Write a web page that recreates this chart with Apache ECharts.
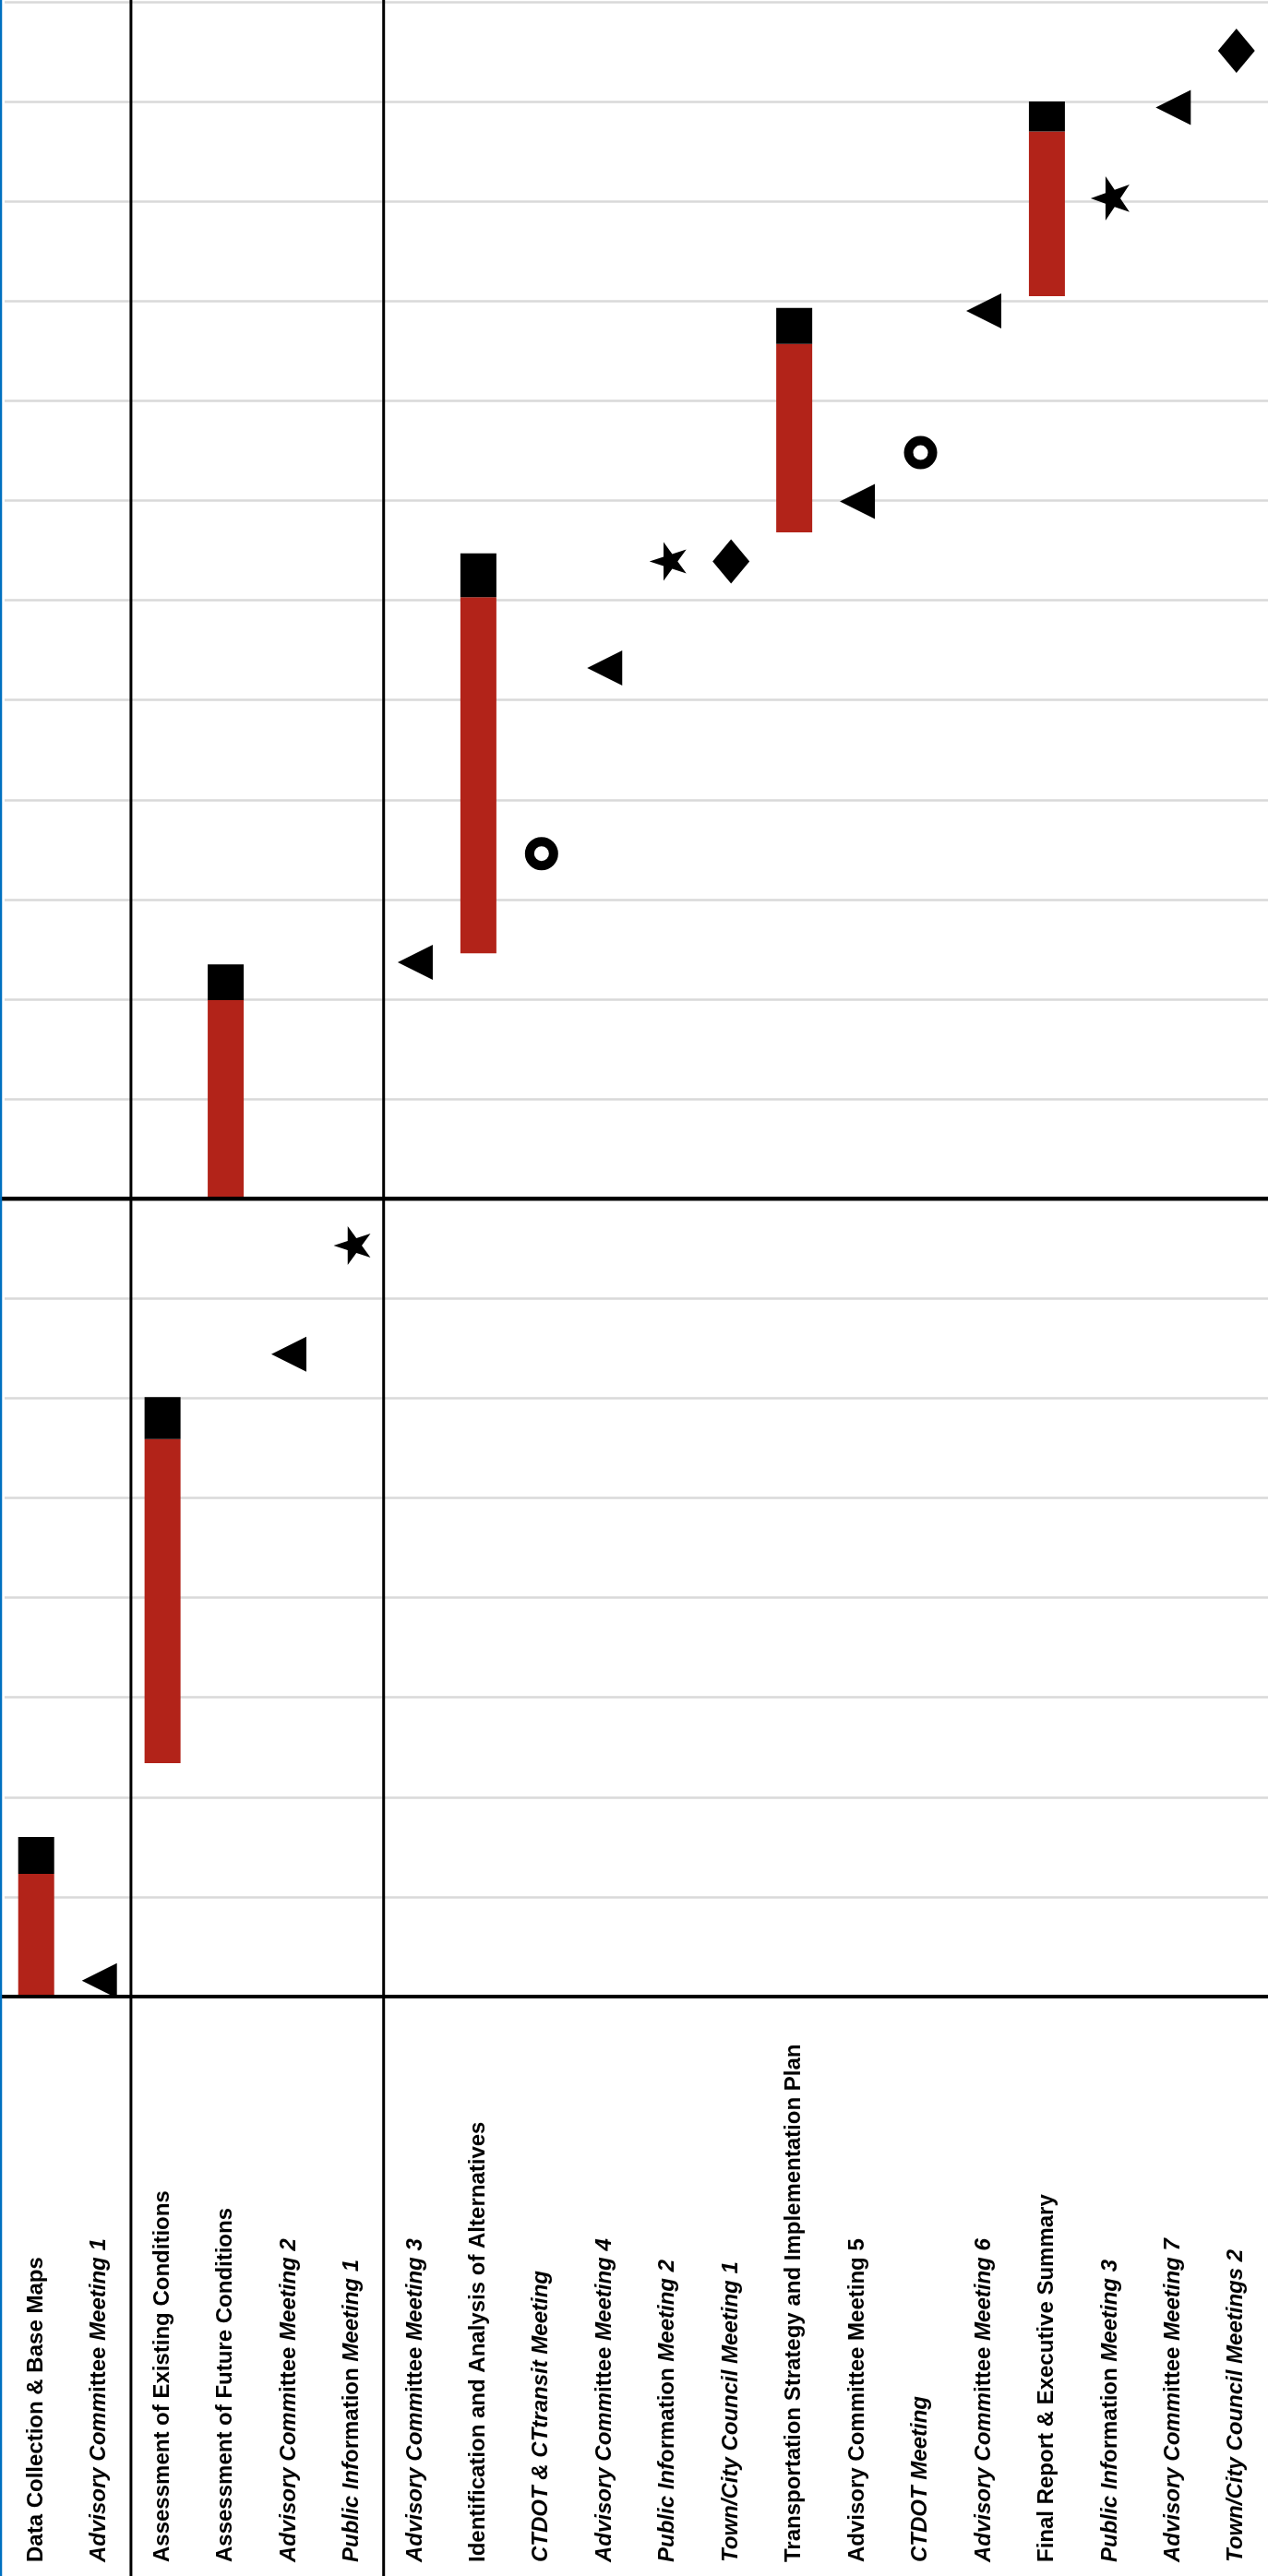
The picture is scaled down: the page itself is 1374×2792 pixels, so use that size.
<!DOCTYPE html>
<html>
<head>
<meta charset="utf-8">
<script src="https://cdn.jsdelivr.net/npm/echarts@6/dist/echarts.min.js"></script>
<style>
html,body{margin:0;padding:0;background:#fff;}
#c{width:1374px;height:2792px;}
</style>
</head>
<body>
<div id="c"></div>
<script>
// ---- data ----
const categories = [
  'Data Collection & Base Maps',
  'Advisory Committee Meeting 1',
  'Assessment of Existing Conditions',
  'Assessment of Future Conditions',
  'Advisory Committee Meeting 2',
  'Public Information Meeting 1',
  'Advisory Committee Meeting 3',
  'Identification and Analysis of Alternatives',
  'CTDOT & CTtransit Meeting',
  'Advisory Committee Meeting 4',
  'Public Information Meeting 2',
  'Town/City Council Meeting 1',
  'Transportation Strategy and Implementation Plan',
  'Advisory Committee Meeting 5',
  'CTDOT Meeting',
  'Advisory Committee Meeting 6',
  'Final Report & Executive Summary',
  'Public Information Meeting 3',
  'Advisory Committee Meeting 7',
  'Town/City Council Meetings 2'
];
const N = null;
// task bars: start, start of black cap, end
const taskStart = [0,    N, 2.34, 8.00, N, N, N, 10.46, N, N, N, N, 14.68, N, N, N, 17.05, N, N, N];
const capStart  = [1.23, N, 5.59, 9.99, N, N, N, 14.03, N, N, N, N, 16.57, N, N, N, 18.70, N, N, N];
const taskEnd   = [1.60, N, 6.01, 10.35, N, N, N, 14.47, N, N, N, N, 16.93, N, N, N, 19.00, N, N, N];
// meetings
const advisoryMeetings = [N, 0.16, N, N, 6.44, N, 10.37, N, N, 13.32, N, N, N, 14.99, N, 16.90, N, N, 18.94, N];
const publicMeetings   = [N, N, N, N, N, 7.53, N, N, N, N, 14.39, N, N, N, N, N, N, 18.03, N, N];
const councilMeetings  = [N, N, N, N, N, N, N, N, N, N, N, 14.39, N, N, N, N, N, N, N, 19.51];
const ctdotMeetings    = [N, N, N, N, N, N, N, N, 11.46, N, N, N, N, N, 15.48, N, N, N, N, N];
const yMin = 0, yMax = 20, yStep = 1;
const phaseBreak = 8;
const separatorsAfter = [1, 5]; // vertical separators after these category indices

// ---- helpers ----
const dash = v => (v === null ? '-' : v);
const baseData  = taskStart.map(dash);
const redData   = taskStart.map((s, i) => s === null ? '-' : +(capStart[i] - s).toFixed(3));
const blackData = taskStart.map((s, i) => s === null ? '-' : +(taskEnd[i] - capStart[i]).toFixed(3));

const STAR = 'path://M0,47.55 L34.55,36.32 L34.55,0 L55.9,29.39 L90.45,18.15 L69.1,47.55 L90.45,76.95 L55.9,65.72 L34.55,95.1 L34.55,58.78 Z';
const FONT = '"Liberation Sans", Arial, sans-serif';

function labelFmt(v) {
  if (v === 'Advisory Committee Meeting 5') return '{b|' + v + '}';
  let m = v.match(/^Advisory Committee (Meeting \d+)$/);
  if (m) return '{i|Advisory Comm}{b|ittee }{i|' + m[1] + '}';
  m = v.match(/^Public Information (Meeting \d+)$/);
  if (m) return '{i|Public Inf}{b|ormation }{i|' + m[1] + '}';
  if (/Meeting/.test(v)) return '{i|' + v + '}';
  return '{b|' + v + '}';
}

const markerStyle = {color: '#000', opacity: 1};

const chart = echarts.init(document.getElementById('c'), null, {renderer: 'canvas'});
chart.setOption({
  animation: false,
  backgroundColor: '#fff',
  grid: {left: 5, right: 0, top: 2, bottom: 628, containLabel: false},
  xAxis: {
    type: 'category',
    data: categories,
    boundaryGap: true,
    axisLine: {show: true, lineStyle: {color: '#000', width: 4}},
    axisTick: {show: false},
    splitLine: {show: false},
    axisLabel: {
      interval: 0,
      rotate: 90,
      align: 'left',
      verticalAlign: 'middle',
      margin: 613,
      color: '#000',
      formatter: labelFmt,
      rich: {
        b: {fontFamily: FONT, fontSize: 24, fontWeight: 'bold', fontStyle: 'normal', color: '#000'},
        i: {fontFamily: FONT, fontSize: 24, fontWeight: 'bold', fontStyle: 'italic', color: '#000'}
      }
    }
  },
  yAxis: {
    type: 'value',
    min: yMin, max: yMax, interval: yStep,
    axisLine: {show: false},
    axisTick: {show: false},
    axisLabel: {show: false},
    splitLine: {show: true, lineStyle: {color: '#D9D9D9', width: 2.5}}
  },
  series: [
    {type: 'bar', stack: 'task', data: baseData, barWidth: 39,
     itemStyle: {color: 'rgba(0,0,0,0)'}, silent: true},
    {type: 'bar', stack: 'task', data: redData, barWidth: 39,
     itemStyle: {color: '#B22319', opacity: 1}},
    {type: 'bar', stack: 'task', data: blackData, barWidth: 39,
     itemStyle: {color: '#000', opacity: 1}},
    {type: 'scatter', data: advisoryMeetings.map(dash), symbol: 'triangle', symbolRotate: 90,
     symbolSize: [38, 38], itemStyle: markerStyle, z: 5},
    {type: 'scatter', data: publicMeetings.map(dash), symbol: STAR,
     symbolSize: (v, p) => (p.dataIndex === 17 ? [42, 48] : [40, 42]), itemStyle: markerStyle, z: 5},
    {type: 'scatter', data: councilMeetings.map(dash), symbol: 'diamond',
     symbolSize: [40, 48], itemStyle: markerStyle, z: 5},
    {type: 'scatter', data: ctdotMeetings.map(dash), symbol: 'circle',
     symbolSize: 26, itemStyle: {color: '#fff', borderColor: '#000', borderWidth: 10, opacity: 1}, z: 5}
  ]
});

// decorative separators derived from the axes
const W = 1374, H = 2792;
const g = [];
separatorsAfter.forEach(i => {
  const a = chart.convertToPixel({xAxisIndex: 0}, categories[i]);
  const b = chart.convertToPixel({xAxisIndex: 0}, categories[i + 1]);
  const x = (a + b) / 2;
  g.push({type: 'line', shape: {x1: x, y1: 0, x2: x, y2: H}, style: {stroke: '#000', lineWidth: 3}, z: 100});
});
const yb = chart.convertToPixel({yAxisIndex: 0}, phaseBreak);
g.push({type: 'line', shape: {x1: 0, y1: yb, x2: W, y2: yb}, style: {stroke: '#000', lineWidth: 4.5}, z: 100});
const y0 = chart.convertToPixel({yAxisIndex: 0}, yMin);
g.push({type: 'line', shape: {x1: 0, y1: y0, x2: W, y2: y0}, style: {stroke: '#000', lineWidth: 4}, z: 100});
g.push({type: 'line', shape: {x1: 1, y1: 0, x2: 1, y2: H}, style: {stroke: '#0070C0', lineWidth: 2.5}, z: 101});
chart.setOption({graphic: g});
</script>
</body>
</html>
